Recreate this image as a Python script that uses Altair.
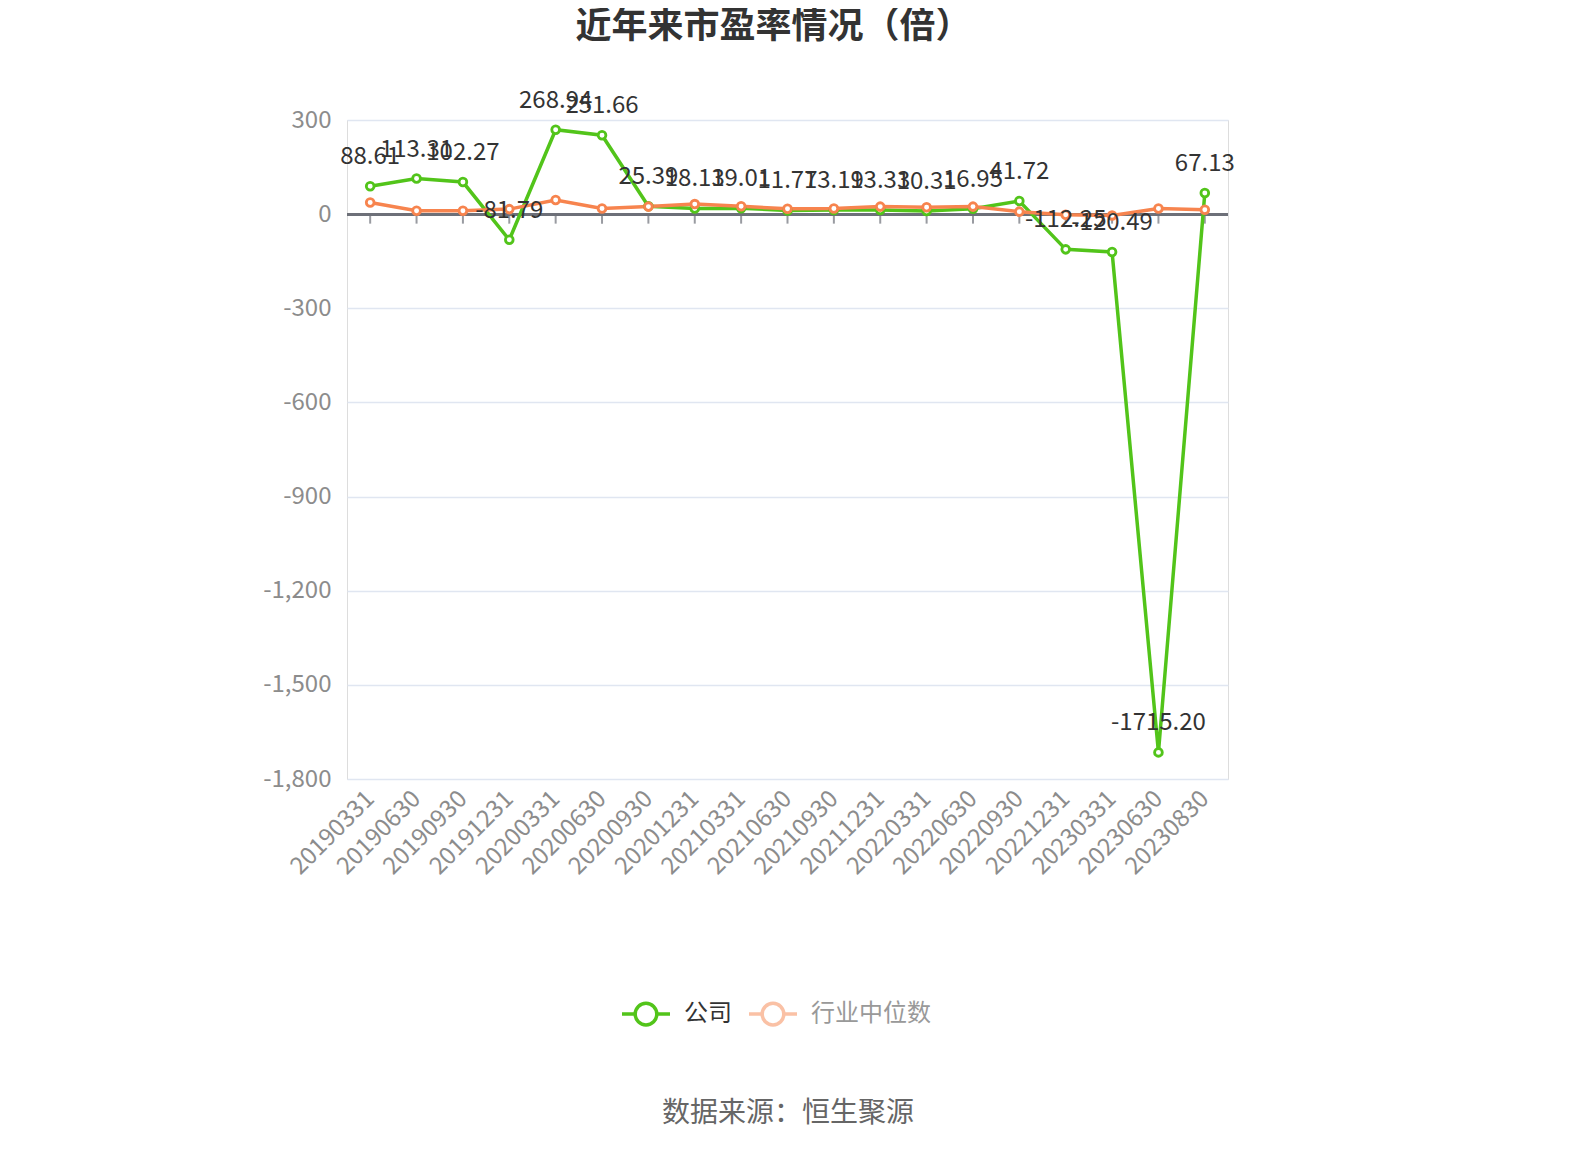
import altair as alt
import pandas as pd

dates = ["20190331", "20190630", "20190930", "20191231", "20200331", "20200630",
         "20200930", "20201231", "20210331", "20210630", "20210930", "20211231",
         "20220331", "20220630", "20220930", "20221231", "20230331", "20230630",
         "20230830"]
company = [88.61, 113.31, 102.27, -81.79, 268.94, 251.66, 25.39, 18.13, 19.01,
           11.77, 13.19, 13.33, 10.31, 16.95, 41.72, -112.25, -120.49, -1715.20, 67.13]
industry = [37, 11, 11, 16, 45, 18, 24, 32, 25, 17, 18, 24, 22, 24, 8, -2, -4, 18, 14]
series_names = ["公司", "行业中位数"]
colors = ["#52c41a", "#f7844e"]
y_ticks = [-1800, -1500, -1200, -900, -600, -300, 0, 300]
title_text = "近年来市盈率情况（倍）"
source_text = "数据来源：恒生聚源"

FONT = "Noto Sans CJK SC"
MINUS = "\u2212"

rows = []
for d, v in zip(dates, company):
    rows.append({"date": d, "series": series_names[0], "value": v})
for d, v in zip(dates, industry):
    rows.append({"date": d, "series": series_names[1], "value": v})
df = pd.DataFrame(rows)
comp_df = df[df["series"] == series_names[0]]
zero_df = pd.DataFrame({"date": dates, "value": [0] * len(dates)})

x_enc = alt.X(
    "date:O", sort=dates,
    scale=alt.Scale(type="point", padding=0.5),
    axis=alt.Axis(
        title=source_text, labelAngle=-45, labelFontSize=24, labelColor="#8c8c8c",
        labelPadding=16, domain=False, ticks=False, grid=False, labelFont=FONT,
        titleFont=FONT, titleFontSize=28, titleFontWeight="normal", titleColor="#666666",
        titleY=334, titleBaseline="middle",
    ),
)
y_enc = alt.Y(
    "value:Q",
    scale=alt.Scale(domain=[-1800, 300], nice=False, zero=False),
    axis=alt.Axis(
        values=y_ticks, title=None, domain=False, ticks=False,
        labelExpr=f"replace(format(datum.value, ',.0f'), '{MINUS}', '-')",
        labelFontSize=24, labelColor="#8c8c8c", labelPadding=16, labelFont=FONT,
        gridColor="#e0e6f1", gridWidth=1.5,
    ),
)

symbol_path = ("M-1,0L-0.45,0M0.45,0L1,0M0.45,0A0.45,0.45,0,1,1,-0.45,0"
               "A0.45,0.45,0,1,1,0.45,0")

color_legend = alt.Color(
    "series:N", sort=series_names,
    scale=alt.Scale(domain=series_names, range=colors),
    legend=alt.Legend(
        title=None, orient="none", direction="horizontal", legendX=273, legendY=868,
        symbolType=symbol_path, symbolSize=2304, symbolStrokeWidth=3.5,
        symbolFillColor="white",
        symbolOpacity={"expr": "datum.label == '公司' ? 1 : 0.5"},
        labelColor={"expr": "datum.label == '公司' ? '#333333' : '#999999'"},
        labelFontSize=24, labelFont=FONT, labelOffset=12, columnPadding=10,
    ),
)
color_plain = alt.Color("series:N", sort=series_names,
                        scale=alt.Scale(domain=series_names, range=colors), legend=None)

zero_rule = alt.Chart(zero_df).mark_rule(color="#6e7079", strokeWidth=2).encode(
    y=alt.Y("value:Q"))
zero_ticks = alt.Chart(zero_df).mark_tick(
    orient="vertical", color="#6e7079", size=9, thickness=2, yOffset=5
).encode(x=alt.X("date:O", sort=dates), y=alt.Y("value:Q"))

lines = alt.Chart(df).mark_line(strokeWidth=3.5).encode(
    x=x_enc, y=y_enc, color=color_legend, detail="series:N")
points = alt.Chart(df).mark_point(
    shape="circle", size=60, filled=False, fill="white", fillOpacity=1, strokeWidth=2.8,
    opacity=1
).encode(x=alt.X("date:O", sort=dates), y="value:Q", color=color_plain)
labels = alt.Chart(comp_df).transform_calculate(
    label=f"replace(format(datum.value, '.2f'), '{MINUS}', '-')"
).mark_text(
    dy=-29, fontSize=24, color="#333333", font=FONT
).encode(x=alt.X("date:O", sort=dates), y="value:Q", text="label:N")

chart = alt.layer(zero_rule, zero_ticks, lines, points, labels).properties(
    width=881, height=659,
    title=alt.Title(title_text, fontSize=36, font=FONT, fontWeight="bold",
                    color="#333333", anchor="middle", offset=43, dx=-14),
    autosize=alt.AutoSizeParams(type="none"),
    padding={"left": 339, "top": 112, "right": 320, "bottom": 360},
).configure_view(stroke=None).configure(background="white")

chart.save("out.html", embed_options={"renderer": "svg", "actions": False})
